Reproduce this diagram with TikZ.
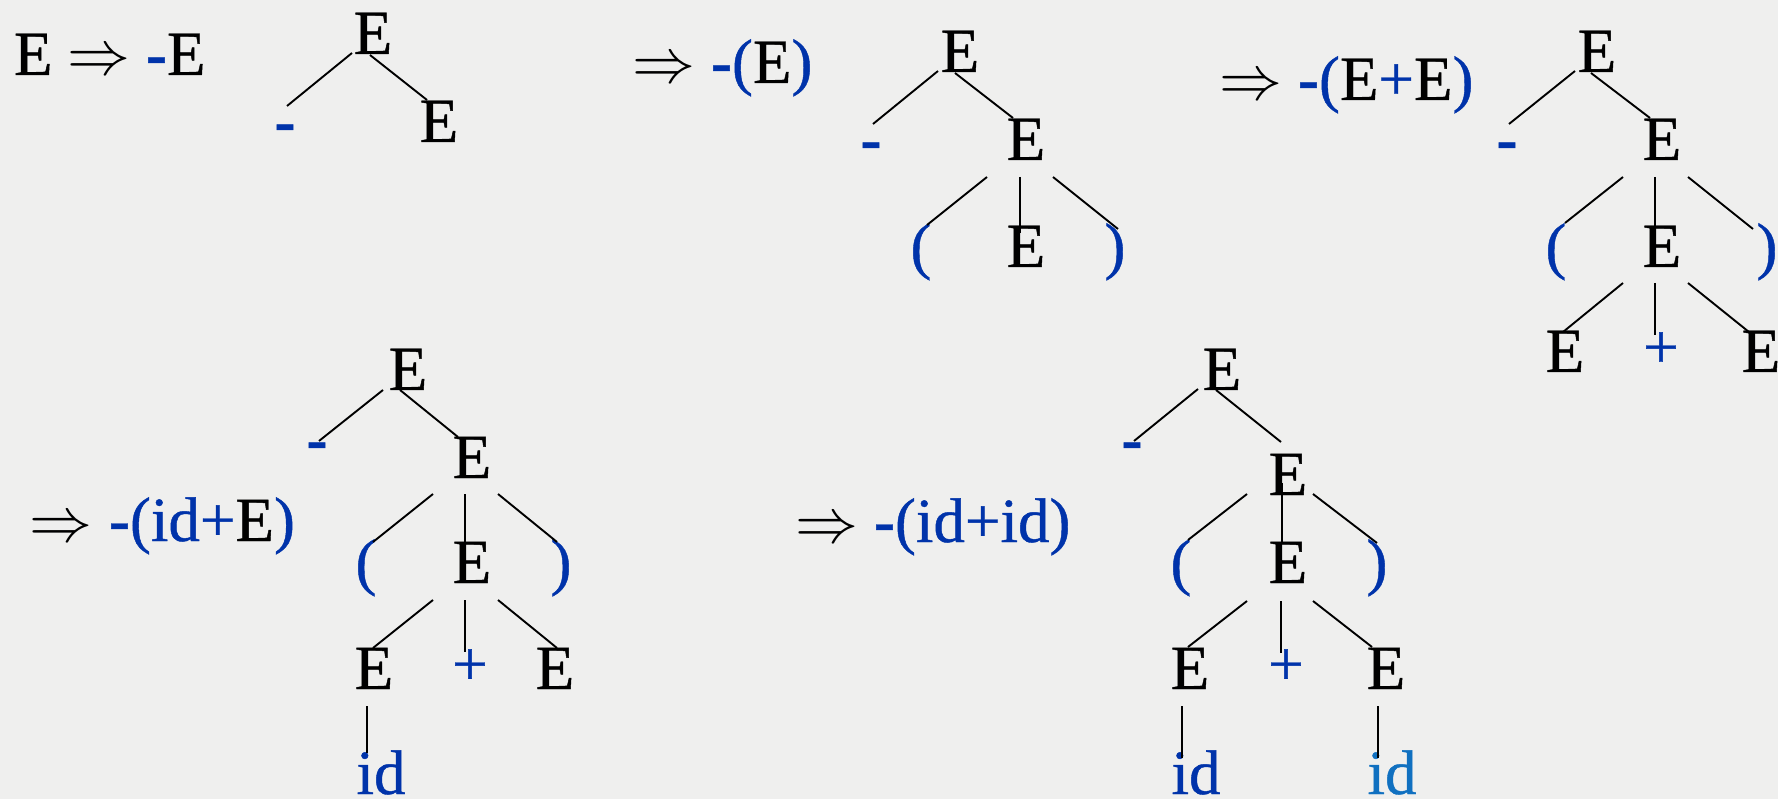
\documentclass[tikz,border=0pt]{standalone}
\usepackage{graphicx}
\usepackage{fontspec}
\setmainfont{Liberation Serif}[FakeBold=0.7]
\usetikzlibrary{calc}
\definecolor{bg}{RGB}{239,239,238}
\definecolor{tblue}{RGB}{0,51,170}
\definecolor{lblue}{RGB}{16,112,192}
\newcommand{\bmin}{\textbf{-}}
\newcommand{\darr}{{\normalsize\scalebox{6.3}{$\Rightarrow$}}}
\begin{document}
\begin{tikzpicture}[x=1pt,y=-1pt,
  every node/.style={inner sep=0pt,outer sep=0pt,anchor=base,font=\fontsize{63}{75}\selectfont},
  nt/.style={text=black},
  tm/.style={text=tblue},
  tml/.style={text=lblue},
  expr/.style={anchor=base west},
  edge/.style={draw=black,line width=1.9pt}]
\useasboundingbox (0,0) rectangle (1778,799);
\fill[bg] (0,0) rectangle (1778,799);

% ---------- expressions ----------
\node[expr,nt] (x1a) at (14,75) {E};
\node[nt] (x1b) at (99,75) {\darr};
\node[expr,nt] (x1c) at (146,75) {\textcolor{tblue}{\bmin}E};

\node[nt] (x2a) at (664,83) {\darr};
\node[expr,nt] (x2b) at (711,83) {\textcolor{tblue}{\bmin(}E\textcolor{tblue}{)}};

\node[nt] (x3a) at (1251,100) {\darr};
\node[expr,nt] (x3b) at (1298,100) {\textcolor{tblue}{\bmin(}E\textcolor{tblue}{+}E\textcolor{tblue}{)}};

\node[nt] (x4a) at (61,541) {\darr};
\node[expr,nt] (x4b) at (109,541) {\textcolor{tblue}{\bmin(id+}E\textcolor{tblue}{)}};

\node[nt] (x5a) at (827,542) {\darr};
\node[expr,tm] (x5b) at (874,542) {\bmin(id+id)};

% ---------- tree 1 ----------
\node[nt] (r1) at (373,54) {E};
\node[tm] (m1) at (285,142) {\bmin};
\node[nt] (e1) at (439,142) {E};
\draw[edge] ($(r1.base)+(-21,-1)$) -- ($(m1.base)+(2,-36)$);
\draw[edge] ($(r1.base)+(-3,1)$) -- ($(e1.base)+(-12,-42)$);

% ---------- tree 2 ----------
\node[nt] (r2) at (960,72) {E};
\node[tm] (m2) at (871,160) {\bmin};
\node[nt] (e2b) at (1026,160) {E};
\node[tm] (lp2) at (921,267) {(};
\node[nt] (e2c) at (1026,267) {E};
\node[tm] (rp2) at (1115,267) {)};
\draw[edge] ($(r2.base)+(-22,-1)$) -- ($(m2.base)+(2,-36)$);
\draw[edge] ($(r2.base)+(-5,1)$) -- ($(e2b.base)+(-13,-42)$);
\draw[edge] ($(e2b.base)+(-39,17)$) -- ($(lp2.base)+(6,-42)$);
\draw[edge] ($(e2b.base)+(-6,17)$) -- ($(e2c.base)+(-6,-34)$);
\draw[edge] ($(e2b.base)+(27,17)$) -- ($(rp2.base)+(3,-38)$);

% ---------- tree 3 ----------
\node[nt] (r3) at (1597,72) {E};
\node[tm] (m3) at (1507,160) {\bmin};
\node[nt] (e3b) at (1662,160) {E};
\node[tm] (lp3) at (1556,267) {(};
\node[nt] (e3c) at (1662,267) {E};
\node[tm] (rp3) at (1767,267) {)};
\node[nt] (bl3) at (1565,372) {E};
\node[tm] (pl3) at (1661,368) {+};
\node[nt] (br3) at (1761,372) {E};
\draw[edge] ($(r3.base)+(-22,-1)$) -- ($(m3.base)+(2,-36)$);
\draw[edge] ($(r3.base)+(-6,1)$) -- ($(e3b.base)+(-12,-42)$);
\draw[edge] ($(e3b.base)+(-39,17)$) -- ($(lp3.base)+(9,-44)$);
\draw[edge] ($(e3b.base)+(-7,17)$) -- ($(e3c.base)+(-7,-34)$);
\draw[edge] ($(e3b.base)+(26,17)$) -- ($(rp3.base)+(-14,-38)$);
\draw[edge] ($(e3c.base)+(-39,16)$) -- ($(bl3.base)+(-2,-40)$);
\draw[edge] ($(e3c.base)+(-7,16)$) -- ($(pl3.base)+(-6,-33)$);
\draw[edge] ($(e3c.base)+(26,16)$) -- ($(br3.base)+(-12,-40)$);

% ---------- tree 4 ----------
\node[nt] (r4) at (408,390) {E};
\node[tm] (m4) at (317,460) {\bmin};
\node[nt] (e4b) at (472,478) {E};
\node[tm] (lp4) at (366,583) {(};
\node[nt] (e4c) at (472,583) {E};
\node[tm] (rp4) at (561,583) {)};
\node[nt] (bl4) at (374,689) {E};
\node[tm] (pl4) at (470,685) {+};
\node[nt] (br4) at (555,689) {E};
\node[tm] (id4) at (381,794) {id};
\draw[edge] ($(r4.base)+(-25,0)$) -- ($(m4.base)+(2,-19)$);
\draw[edge] ($(r4.base)+(-8,0)$) -- ($(e4b.base)+(-14,-41)$);
\draw[edge] ($(e4b.base)+(-39,16)$) -- ($(lp4.base)+(7,-41)$);
\draw[edge] ($(e4b.base)+(-7,16)$) -- ($(e4c.base)+(-7,-33)$);
\draw[edge] ($(e4b.base)+(26,16)$) -- ($(rp4.base)+(-4,-41)$);
\draw[edge] ($(e4c.base)+(-39,17)$) -- ($(bl4.base)+(-1,-41)$);
\draw[edge] ($(e4c.base)+(-7,17)$) -- ($(pl4.base)+(-5,-33)$);
\draw[edge] ($(e4c.base)+(26,17)$) -- ($(br4.base)+(2,-41)$);
\draw[edge] ($(bl4.base)+(-7,17)$) -- ($(id4.base)+(-14,-41)$);

% ---------- tree 5 ----------
\node[nt] (r5) at (1222,390) {E};
\node[tm] (m5) at (1132,460) {\bmin};
\node[nt] (e5b) at (1288,495) {E};
\node[tm] (lp5) at (1181,583) {(};
\node[nt] (e5c) at (1288,583) {E};
\node[tm] (rp5) at (1377,583) {)};
\node[nt] (bl5) at (1190,689) {E};
\node[tm] (pl5) at (1286,685) {+};
\node[nt] (br5) at (1386,689) {E};
\node[tm] (ida) at (1196,794) {id};
\node[tml] (idb) at (1392,794) {id};
\draw[edge] ($(r5.base)+(-24,-1)$) -- ($(m5.base)+(2,-19)$);
\draw[edge] ($(r5.base)+(-6,0)$) -- ($(e5b.base)+(-7,-53)$);
\draw[edge] ($(e5b.base)+(-41,-1)$) -- ($(lp5.base)+(7,-43)$);
\draw[edge] ($(e5b.base)+(-6,-12)$) -- ($(e5c.base)+(-6,-40)$);
\draw[edge] ($(e5b.base)+(25,-1)$) -- ($(rp5.base)+(0,-40)$);
\draw[edge] ($(e5c.base)+(-41,18)$) -- ($(bl5.base)+(-2,-42)$);
\draw[edge] ($(e5c.base)+(-7,18)$) -- ($(pl5.base)+(-5,-32)$);
\draw[edge] ($(e5c.base)+(25,18)$) -- ($(br5.base)+(-14,-42)$);
\draw[edge] ($(bl5.base)+(-8,17)$) -- ($(ida.base)+(-14,-36)$);
\draw[edge] ($(br5.base)+(-8,17)$) -- ($(idb.base)+(-14,-36)$);
\end{tikzpicture}
\end{document}
